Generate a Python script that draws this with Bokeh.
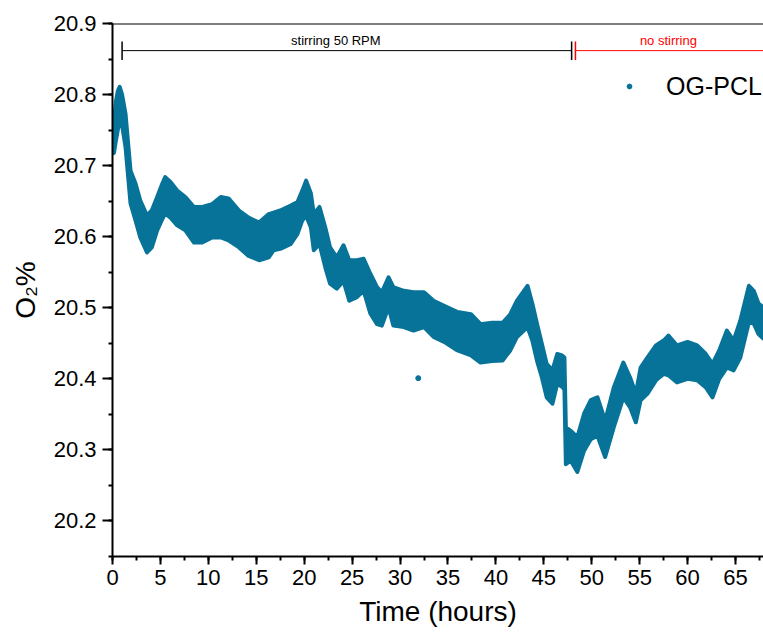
from bokeh.plotting import figure
from bokeh.models import (ColumnDataSource, Range1d, Span, Legend, LegendItem,
                          SingleIntervalTicker, PrintfTickFormatter)
from bokeh.core.properties import value
from bokeh.embed import file_html
from bokeh.resources import INLINE

# ---- data ----
time_h = [0.0, 0.15, 0.35, 0.55, 0.75, 1.0, 1.36, 1.88, 2.4, 2.9, 3.6, 4.1, 4.66, 5.2, 5.5,
          6.05, 6.75, 7.6, 8.5, 9.36, 10.4, 11.3, 12.1, 13.2, 14.2, 15.3, 16.3, 16.8, 17.5,
          18.6, 19.3, 19.8, 20.2, 20.7, 21.0, 21.6, 22.2, 22.7, 23.4, 24.1, 24.7, 25.5, 26.2,
          26.9, 27.6, 28.1, 28.8, 29.3, 30.4, 31.4, 32.5, 33.5, 34.6, 36.0, 37.4, 38.4, 39.6,
          40.7, 41.5, 42.2, 43.3, 43.8, 44.3, 44.8, 45.3, 45.9, 46.4, 46.9, 47.15, 47.3, 47.8,
          48.5, 49.2, 49.9, 50.6, 51.4, 52.3, 53.3, 54.0, 54.6, 55.1, 55.8, 56.7, 57.5, 58.0,
          58.9, 60.0, 61.0, 61.9, 62.6, 63.3, 64.1, 64.8, 65.5, 66.4, 66.9, 67.4, 67.95]
o2_upper = [20.760, 20.762, 20.790, 20.805, 20.811, 20.800, 20.773, 20.693, 20.675, 20.651,
            20.630, 20.637, 20.656, 20.675, 20.684, 20.677, 20.665, 20.656, 20.642, 20.642,
            20.646, 20.656, 20.654, 20.637, 20.627, 20.620, 20.632, 20.634, 20.637, 20.644,
            20.649, 20.665, 20.679, 20.661, 20.632, 20.642, 20.613, 20.585, 20.571, 20.588,
            20.567, 20.567, 20.569, 20.548, 20.529, 20.522, 20.543, 20.529, 20.524, 20.522,
            20.522, 20.510, 20.503, 20.494, 20.491, 20.477, 20.479, 20.479, 20.491, 20.510,
            20.531, 20.506, 20.477, 20.449, 20.421, 20.412, 20.435, 20.433, 20.430, 20.332,
            20.327, 20.318, 20.351, 20.370, 20.374, 20.341, 20.388, 20.423, 20.402, 20.379,
            20.416, 20.430, 20.447, 20.454, 20.461, 20.447, 20.452, 20.447, 20.435, 20.421,
            20.440, 20.468, 20.454, 20.482, 20.531, 20.524, 20.506, 20.500]
o2_lower = [20.722, 20.718, 20.735, 20.750, 20.764, 20.757, 20.726, 20.647, 20.623, 20.599,
            20.578, 20.585, 20.609, 20.625, 20.633, 20.627, 20.616, 20.609, 20.592, 20.592,
            20.599, 20.599, 20.595, 20.585, 20.573, 20.567, 20.571, 20.581, 20.583, 20.590,
            20.604, 20.623, 20.630, 20.613, 20.581, 20.590, 20.557, 20.534, 20.527, 20.538,
            20.510, 20.515, 20.524, 20.492, 20.477, 20.475, 20.501, 20.475, 20.473, 20.468,
            20.473, 20.459, 20.452, 20.440, 20.433, 20.423, 20.425, 20.426, 20.440, 20.459,
            20.473, 20.454, 20.425, 20.402, 20.374, 20.365, 20.393, 20.389, 20.385, 20.280,
            20.285, 20.269, 20.299, 20.315, 20.320, 20.290, 20.332, 20.374, 20.360, 20.339,
            20.370, 20.379, 20.398, 20.407, 20.405, 20.395, 20.400, 20.398, 20.388, 20.374,
            20.400, 20.416, 20.412, 20.430, 20.480, 20.478, 20.463, 20.456]
outlier_t = [31.9]
outlier_o2 = [20.401]

phase_start = [1.0, 48.3]
phase_end = [47.9, 68.5]
phase_label = ["stirring 50 RPM", "no stirring"]
phase_label_x = [23.3, 58.0]
phase_color = ["black", "red"]
bracket_y = [20.862, 20.862]
label_y = [20.876, 20.876]
cap_low = [20.849, 20.849]
cap_high = [20.875, 20.875]

series_name = "OG-PCL"
x_ticks_every = 5
y_ticks_every = 0.1

COLOR = "#077399"
FONT = "Liberation Sans"

p = figure(width=763, height=638, output_backend="svg", toolbar_location=None,
           x_range=Range1d(0, 67.92), y_range=Range1d(20.15, 20.9002),
           min_border_left=112, min_border_right=0, min_border_top=23, min_border_bottom=82)
p.outline_line_color = None
p.grid.grid_line_color = None
p.background_fill_color = "white"
p.border_fill_color = "white"

src = ColumnDataSource(dict(t=time_h, hi=o2_upper, lo=o2_lower))
p.varea(x="t", y1="lo", y2="hi", source=src, fill_color=COLOR)
p.line(x="t", y="hi", source=src, line_color=COLOR, line_width=4, line_join="round")
p.line(x="t", y="lo", source=src, line_color=COLOR, line_width=4, line_join="round")
pts = p.scatter(x=outlier_t, y=outlier_o2, size=5, marker="circle",
                fill_color=COLOR, line_color=COLOR)

# stirring annotations
psrc = ColumnDataSource(dict(x0=phase_start, x1=phase_end, y=bracket_y, lo=cap_low, hi=cap_high,
                             lx=phase_label_x, ly=label_y, txt=phase_label, c=phase_color))
p.segment(x0="x0", y0="y", x1="x1", y1="y", source=psrc, line_color="c", line_width=1)
p.segment(x0="x0", y0="lo", x1="x0", y1="hi", source=psrc, line_color="c", line_width=1.5)
p.segment(x0="x1", y0="lo", x1="x1", y1="hi", source=psrc, line_color="c", line_width=1.5)
p.text(x="lx", y="ly", text="txt", source=psrc, text_color="c", text_align="center",
       text_baseline="middle", text_font=value(FONT), text_font_size=value("13px"))

# top frame line
p.add_layout(Span(location=20.9, dimension="width", line_color="black", line_width=1.5))

# axes
p.xaxis.ticker = SingleIntervalTicker(interval=x_ticks_every, num_minor_ticks=2)
p.yaxis.ticker = SingleIntervalTicker(interval=y_ticks_every, num_minor_ticks=2)
p.yaxis.formatter = PrintfTickFormatter(format="%.1f")
for ax in (p.xaxis, p.yaxis):
    ax.axis_line_width = 2
    ax.axis_line_color = "black"
    ax.major_tick_line_width = 2
    ax.minor_tick_line_width = 2
    ax.major_tick_line_color = "black"
    ax.minor_tick_line_color = "black"
    ax.major_tick_in = 0
    ax.minor_tick_in = 0
    ax.minor_tick_out = 4
    ax.major_label_text_font = FONT
    ax.major_label_text_font_size = "22px"
    ax.major_label_text_color = "black"
    ax.axis_label_text_font = FONT
    ax.axis_label_text_font_size = "28px"
    ax.axis_label_text_font_style = "normal"
    ax.axis_label_text_color = "black"
p.xaxis.major_tick_out = 8
p.yaxis.major_tick_out = 10
p.xaxis.major_label_standoff = 5
p.yaxis.major_label_standoff = 6
p.xaxis.axis_label = "Time (hours)"
p.yaxis.axis_label = "O\u2082%"
p.xaxis.axis_label_standoff = 8
p.yaxis.axis_label_standoff = 10

legend = Legend(items=[LegendItem(label=series_name, renderers=[pts])],
                location=(511, 455), padding=0, margin=0, border_line_color=None,
                background_fill_alpha=0, glyph_width=12, glyph_height=30,
                label_height=30, label_standoff=31, label_text_font=FONT,
                label_text_font_size="25px", label_text_color="black")
p.add_layout(legend)

open("out.html", "w").write(file_html(p, INLINE))
